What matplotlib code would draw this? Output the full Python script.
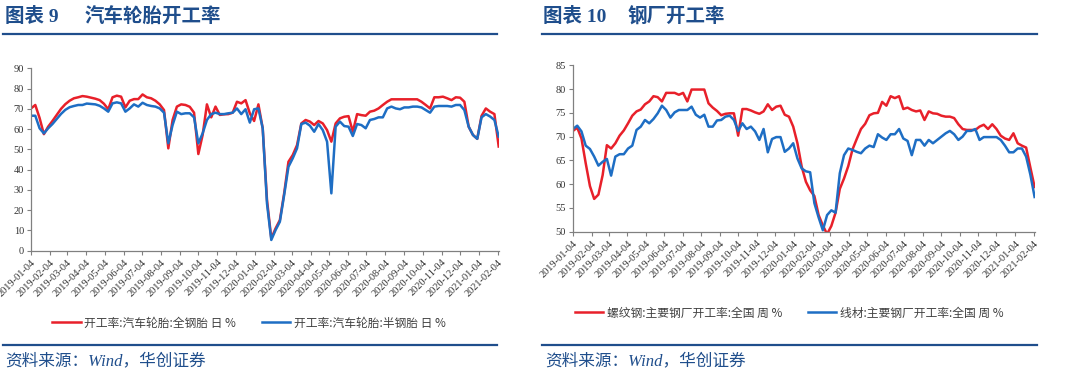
import matplotlib
matplotlib.use('Agg')
import matplotlib.pyplot as plt
import matplotlib.dates as mdates
from matplotlib.lines import Line2D
import pandas as pd

# ---------------- data ----------------
dates = pd.date_range('2019-01-04', periods=110, freq='7D')

tire_all_steel = [
    70.2, 71.9, 65.5, 57.5, 61.2, 64.0, 67.0, 70.0, 72.3, 74.0,
    75.2, 75.7, 76.3, 76.0, 75.5, 75.0, 74.3, 72.5, 69.8, 75.7,
    76.5, 76.0, 70.7, 74.0, 74.8, 74.8, 77.1, 75.7, 75.2, 74.0,
    72.2, 69.4, 50.5, 64.5, 71.1, 72.2, 71.9, 71.0, 68.1, 47.7,
    57.1, 72.2, 65.8, 71.1, 67.0, 67.3, 67.4, 68.1, 73.5, 72.7,
    74.3, 67.8, 64.0, 72.2, 60.4, 25.0, 6.1, 11.0, 15.1, 28.3,
    43.9, 47.2, 52.1, 62.8, 64.5, 63.7, 62.0, 64.0, 62.8, 59.5,
    53.8, 62.8, 65.3, 66.1, 66.4, 58.7, 67.4, 66.9, 66.6, 68.6,
    69.1, 70.2, 71.9, 73.5, 74.7, 74.7, 74.7, 74.7, 74.7, 74.7,
    74.7, 73.5, 71.9, 70.2, 75.7, 75.7, 76.0, 75.2, 74.3, 75.7,
    75.5, 73.5, 61.2, 57.1, 55.2, 66.5, 70.2, 68.6, 67.4, 51.4]

tire_semi_steel = [
    66.6, 66.6, 60.4, 57.9, 60.4, 62.5, 65.0, 67.5, 69.5, 70.8,
    71.4, 71.9, 71.9, 72.6, 72.4, 72.2, 71.5, 70.2, 68.6, 72.7,
    73.2, 72.7, 68.6, 70.2, 72.2, 71.1, 73.0, 71.9, 71.4, 71.1,
    70.2, 68.1, 53.0, 62.0, 68.6, 67.4, 67.8, 67.8, 65.8, 53.0,
    57.9, 64.5, 67.4, 68.1, 67.4, 67.4, 67.8, 68.1, 70.2, 67.4,
    69.8, 63.2, 69.8, 70.2, 60.4, 23.3, 5.3, 10.2, 14.3, 27.5,
    41.4, 45.6, 50.5, 62.5, 63.2, 61.7, 58.7, 62.5, 59.5, 53.8,
    28.3, 61.2, 63.7, 61.5, 61.2, 56.6, 62.5, 62.0, 60.4, 64.5,
    65.0, 65.8, 65.8, 70.2, 71.1, 70.2, 69.8, 70.7, 70.7, 71.1,
    71.1, 70.7, 69.4, 68.1, 71.1, 71.4, 71.4, 71.4, 71.1, 71.9,
    71.9, 69.4, 61.2, 57.1, 55.2, 65.8, 67.4, 66.2, 64.5, 56.3]

rebar = [
    71.2, 71.9, 69.6, 64.4, 59.6, 56.9, 57.8, 61.9, 68.2, 67.5,
    68.6, 70.2, 71.3, 72.8, 74.4, 75.3, 75.7, 76.8, 77.4, 78.5,
    78.3, 77.4, 79.2, 79.2, 79.2, 78.8, 79.2, 77.4, 79.9, 79.9,
    79.9, 79.9, 77.0, 76.1, 75.4, 74.5, 74.8, 74.9, 74.9, 70.2,
    75.8, 75.8, 75.5, 75.1, 74.8, 75.3, 76.8, 75.6, 76.3, 76.5,
    74.6, 74.2, 72.1, 68.6, 63.7, 60.5, 58.7, 57.5, 53.5, 51.3,
    49.5, 51.2, 54.0, 59.0, 61.2, 63.8, 67.3, 69.5, 71.6, 72.7,
    74.5, 74.9, 75.0, 77.3, 76.5, 78.5, 78.1, 78.5, 75.8, 76.1,
    75.6, 75.3, 75.5, 73.5, 75.3, 74.9, 74.8, 74.4, 74.2, 74.2,
    73.9, 72.6, 71.6, 71.4, 71.4, 71.4, 72.1, 72.5, 71.6, 72.6,
    71.6, 70.2, 69.6, 69.3, 70.7, 68.6, 68.1, 67.7, 63.5, 59.4]

wire_rod = [
    71.6, 72.3, 71.1, 68.1, 67.4, 65.8, 63.9, 64.7, 65.3, 61.8,
    65.8, 66.3, 66.3, 67.5, 68.1, 71.4, 72.1, 73.5, 72.8, 73.7,
    74.9, 76.5, 75.6, 74.0, 75.1, 75.6, 75.6, 75.6, 76.3, 74.6,
    74.0, 74.6, 72.1, 72.1, 73.4, 73.5, 74.2, 74.4, 73.5, 71.2,
    72.8, 71.6, 72.1, 71.1, 69.3, 71.6, 66.7, 69.5, 69.9, 69.9,
    66.8, 67.5, 68.6, 65.4, 63.3, 62.7, 62.5, 56.0, 53.0, 50.3,
    53.5, 54.5, 54.0, 62.3, 66.1, 67.5, 67.2, 66.8, 66.5, 67.5,
    68.1, 67.8, 70.5, 69.8, 69.3, 70.5, 70.5, 71.6, 69.6, 69.1,
    66.1, 69.3, 69.3, 68.1, 69.3, 68.6, 69.3, 70.0, 70.7, 71.2,
    70.5, 69.3, 70.0, 71.2, 71.2, 71.6, 69.3, 69.9, 69.9, 69.9,
    69.9, 69.3, 68.1, 66.7, 66.7, 67.5, 67.5, 65.8, 62.0, 57.3]

left_title_num = '图表 9'
left_title = '汽车轮胎开工率'
right_title_num = '图表 10'
right_title = '钢厂开工率'
left_labels = ['开工率:汽车轮胎:全钢胎 日 %', '开工率:汽车轮胎:半钢胎 日 %']
right_labels = ['螺纹钢:主要钢厂开工率:全国 周 %', '线材:主要钢厂开工率:全国 周 %']
source = '资料来源：Wind，华创证券'

# ---------------- style ----------------
RED = '#E8202A'
BLUE = '#1E6EC4'
NAVY = '#1F4E8C'
TXT = '#333333'
W, H = 1080, 376
CJK = ['Noto Sans CJK SC', 'DejaVu Sans']
SERIF = ['Liberation Serif', 'Noto Sans CJK SC', 'DejaVu Sans']

fig = plt.figure(figsize=(W / 100, H / 100), dpi=100)
fig.patch.set_facecolor('white')


def px_rect(x0, x1, ytop, ybot):
    return [x0 / W, 1 - ybot / H, (x1 - x0) / W, (ybot - ytop) / H]


def style_axes(ax, yticks):
    for s in ['top', 'right']:
        ax.spines[s].set_visible(False)
    for s in ['left', 'bottom']:
        ax.spines[s].set_color('#808080')
        ax.spines[s].set_linewidth(0.9)
    ax.set_xlim(dates[0], dates[-1])
    ax.set_ylim(yticks[0], yticks[-1])
    ax.set_yticks(yticks)
    ax.xaxis.set_major_locator(mdates.MonthLocator(bymonthday=4))
    ax.xaxis.set_major_formatter(mdates.DateFormatter('%Y-%m-%d'))
    ax.tick_params(axis='both', direction='out', length=3, width=0.8,
                   color='#808080', pad=2)
    for lab in ax.get_yticklabels():
        lab.set_fontfamily(SERIF)
        lab.set_fontsize(7.5)
        lab.set_color(TXT)
    for lab in ax.get_xticklabels():
        lab.set_fontfamily(SERIF)
        lab.set_fontsize(7.5)
        lab.set_color(TXT)
        lab.set_rotation(45)
        lab.set_ha('right')
        lab.set_va('top')
        lab.set_rotation_mode('anchor')


# left chart
axL = fig.add_axes(px_rect(31, 498.7, 68.3, 250.7))
axL.plot(dates, tire_all_steel, color=RED, lw=1.8, label=left_labels[0])
axL.plot(dates, tire_semi_steel, color=BLUE, lw=1.8, label=left_labels[1])
style_axes(axL, list(range(0, 91, 10)))

# right chart
axR = fig.add_axes(px_rect(573, 1034.6, 65.3, 231.7))
axR.plot(dates, rebar, color=RED, lw=1.8, label=right_labels[0])
axR.plot(dates, wire_rod, color=BLUE, lw=1.8, label=right_labels[1])
style_axes(axR, list(range(50, 86, 5)))

# legends
legprop = {'family': CJK, 'size': 8.5}
lgL = fig.legend(handles=axL.get_lines(), labels=left_labels, loc='center',
                 bbox_to_anchor=(249 / W, 1 - 323 / H), ncol=2, frameon=False,
                 prop=legprop, handlelength=2.4, handletextpad=0.3,
                 columnspacing=2.2)
lgR = fig.legend(handles=axR.get_lines(), labels=right_labels, loc='center',
                 bbox_to_anchor=(789 / W, 1 - 313 / H), ncol=2, frameon=False,
                 prop=legprop, handlelength=2.4, handletextpad=0.3,
                 columnspacing=2.2)
for lg in (lgL, lgR):
    for t in lg.get_texts():
        t.set_color('#404040')

# titles
tkw = dict(fontsize=14, fontweight='bold', color=NAVY, va='center',
           ha='left', family=SERIF)
fig.text(5 / W, 1 - 17 / H, left_title_num, **tkw)
fig.text(85 / W, 1 - 17 / H, left_title, **dict(tkw, family=CJK))
fig.text(543 / W, 1 - 17 / H, right_title_num, **tkw)
fig.text(628 / W, 1 - 17 / H, right_title, **dict(tkw, family=CJK))

# rules
for x0, x1 in [(3, 497), (542, 1037)]:
    for y in (34, 345):
        fig.add_artist(Line2D([x0 / W, x1 / W], [1 - y / H, 1 - y / H],
                              transform=fig.transFigure, color=NAVY, lw=1.6))

# sources
skw = dict(fontsize=12, color=NAVY, va='center', ha='left', style='italic',
           family=SERIF)
fig.text(5 / W, 1 - 361 / H, source, **skw)
fig.text(545 / W, 1 - 361 / H, source, **skw)

fig.savefig('out.png', dpi=100, facecolor='white')
